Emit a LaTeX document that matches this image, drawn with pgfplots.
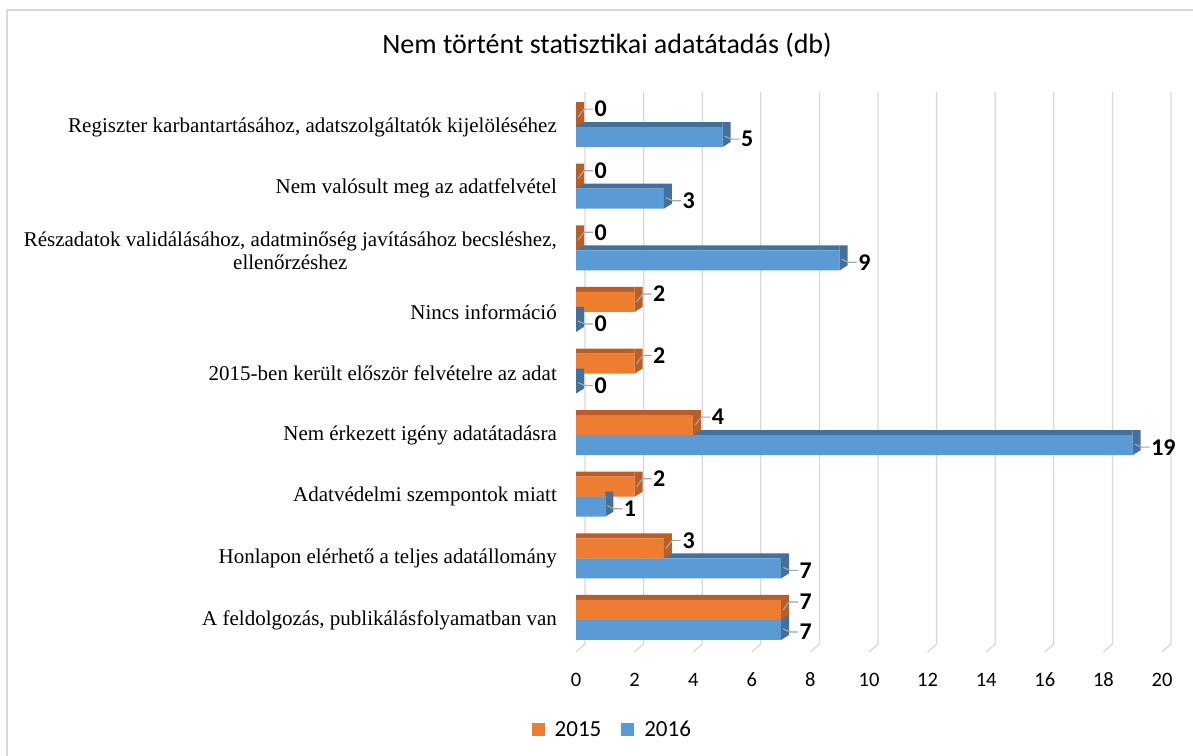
\documentclass[border=0pt]{standalone}
\usepackage{pgfplots}
\usepackage{pgfplotstable}
\pgfplotsset{compat=1.18}
\usepackage{fontspec}
\setmainfont{Carlito}
\newfontfamily\catfont{Liberation Serif}

\definecolor{orF}{HTML}{ED7D31}
\definecolor{orD}{HTML}{B95E24}
\definecolor{blF}{HTML}{5B9BD5}
\definecolor{blD}{HTML}{41719C}
\definecolor{gridc}{HTML}{D9D9D9}
\definecolor{leader}{HTML}{A6A6A6}

\pgfdeclareplotmark{sideO}{%
  \pgfpathmoveto{\pgfpoint{0bp}{0bp}}%
  \pgfpathlineto{\pgfpoint{0bp}{25bp}}%
  \pgfpathlineto{\pgfpoint{8bp}{25bp}}%
  \pgfpathlineto{\pgfpoint{8bp}{5bp}}%
  \pgfpathclose
  \pgfsetfillcolor{orD}\pgfusepath{fill}%
  \pgfsetstrokecolor{leader}\pgfsetlinewidth{1.2bp}%
  \pgfpathmoveto{\pgfpoint{2bp}{10bp}}%
  \pgfpathlineto{\pgfpoint{8bp}{18bp}}%
  \pgfpathlineto{\pgfpoint{17bp}{18bp}}%
  \pgfusepath{stroke}%
}
\pgfdeclareplotmark{sideB}{%
  \pgfpathmoveto{\pgfpoint{0bp}{-20bp}}%
  \pgfpathlineto{\pgfpoint{0bp}{5bp}}%
  \pgfpathlineto{\pgfpoint{8bp}{5bp}}%
  \pgfpathlineto{\pgfpoint{8bp}{-15bp}}%
  \pgfpathclose
  \pgfsetfillcolor{blD}\pgfusepath{fill}%
  \pgfsetstrokecolor{leader}\pgfsetlinewidth{1.2bp}%
  \pgfpathmoveto{\pgfpoint{2bp}{-9bp}}%
  \pgfpathlineto{\pgfpoint{9bp}{-12bp}}%
  \pgfpathlineto{\pgfpoint{17bp}{-12bp}}%
  \pgfusepath{stroke}%
}

\pgfplotstableread{
k y15 y16
0 7 7
1 3 7
2 2 1
3 4 19
4 2 0
5 2 0
6 0 9
7 0 3
8 0 5
}\datatable

\begin{document}
\begin{tikzpicture}
\useasboundingbox (0,0) rectangle (1193bp,756bp);
\draw[gridc, line width=1.5bp] (7bp,0) -- (7bp,746bp) -- (1193bp,746bp);
\node[font=\fontsize{28bp}{32bp}\selectfont] at (607bp,711bp) {Nem történt statisztikai adatátadás (db)};
\begin{axis}[
  at={(576bp,104bp)}, anchor=south west,
  scale only axis, width=586bp, height=552bp,
  xmin=0, xmax=20, ymin=-0.52, ymax=8.44,
  clip=false,
  axis line style={draw=none},
  major tick length=0pt,
  tick style={draw=none},
  xtick={0,2,...,20},
  ytick={0,...,8},
  yticklabels={
    {A feldolgozás, publikálásfolyamatban van},
    {Honlapon elérhető a teljes adatállomány},
    {Adatvédelmi szempontok miatt},
    {Nem érkezett igény adatátadásra},
    {2015-ben került először felvételre az adat},
    {Nincs információ},
    {Részadatok validálásához, adatminőség javításához becsléshez,\\ellenőrzéshez},
    {Nem valósult meg az adatfelvétel},
    {Regiszter karbantartásához, adatszolgáltatók kijelöléséhez}},
  yticklabel style={font=\catfont\fontsize{21bp}{23bp}\selectfont, align=center, anchor=east, inner sep=0pt, xshift=-19bp},
  xticklabel style={font=\fontsize{20.5bp}{24bp}\selectfont, anchor=base, inner sep=0pt, yshift=-35bp},
  /pgf/number format/assume math mode=true,
  legend style={draw=none, at={(0.062,-0.141)}, anchor=center, font=\fontsize{23bp}{26bp}\selectfont, legend columns=2,
    /tikz/every even column/.append style={column sep=18bp},
    /tikz/every odd column/.append style={column sep=8bp}, inner sep=0pt},
  legend image code/.code={\fill[#1] (0bp,-6.5bp) rectangle (13bp,6.5bp);},
  legend cell align=left,
]
\pgfplotsinvokeforeach{0,2,...,20}{
  \draw[gridc, line width=1.3bp] (axis cs:#1,-0.52) -- ++(9bp,8bp) -- ([xshift=9bp,yshift=8bp]axis cs:#1,8.44);
}
% 2016 (blue)
\addplot[xbar, bar width=5bp, bar shift=2.5bp, fill=blD, draw=none, forget plot] table[x=y16,y=k]{\datatable};
\addplot[xbar, bar width=20bp, bar shift=-10bp, fill=blF, draw=none, forget plot] table[x=y16,y=k]{\datatable};
\addplot[only marks, mark=sideB, forget plot, point meta=x, nodes near coords,
  every node near coord/.append style={anchor=west, xshift=17bp, yshift=-12bp, inner sep=1bp, text=black, font=\bfseries\fontsize{24bp}{27bp}\selectfont}]
  table[x=y16,y=k]{\datatable};
% 2015 (orange)
\addplot[xbar, bar width=5bp, bar shift=22.5bp, fill=orD, draw=none, forget plot] table[x=y15,y=k]{\datatable};
\addplot[xbar, bar width=20bp, bar shift=10bp, fill=orF, draw=none, forget plot] table[x=y15,y=k]{\datatable};
\addplot[only marks, mark=sideO, forget plot, point meta=x, nodes near coords,
  every node near coord/.append style={anchor=west, xshift=17bp, yshift=18bp, inner sep=1bp, text=black, font=\bfseries\fontsize{24bp}{27bp}\selectfont}]
  table[x=y15,y=k]{\datatable};
\addlegendimage{fill=orF, draw=none}
\addlegendentry{2015}
\addlegendimage{fill=blF, draw=none}
\addlegendentry{2016}
\end{axis}
\end{tikzpicture}
\end{document}
